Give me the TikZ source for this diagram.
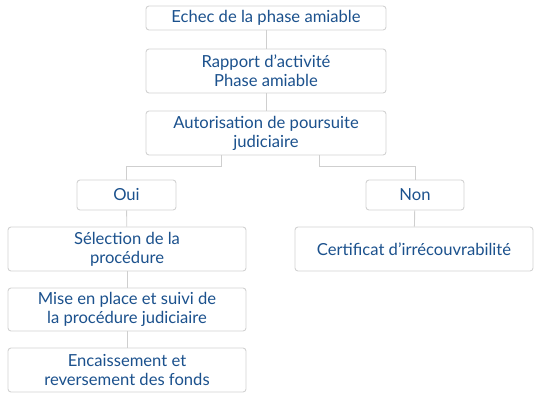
\documentclass[tikz,border=0pt]{standalone}
\usepackage{fontspec}
\setmainfont{Lato}
\begin{document}
\begin{tikzpicture}[x=1pt,y=-1pt,
  box/.style={draw=boxgray, line width=0.9pt, rounded corners=3pt, fill=white, text=txtblue, align=center, font=\fontsize{16.6}{19}\selectfont, inner sep=0pt},
  link/.style={draw=linegray, line width=0.9pt}]
\definecolor{boxgray}{HTML}{D2D2D2}
\definecolor{linegray}{HTML}{CFCFCF}
\definecolor{txtblue}{HTML}{1B518D}
\useasboundingbox (0,0) rectangle (540,400);
\node[box, minimum width=240pt, minimum height=24pt] (b1) at (266,18) {Echec de la phase amiable};
\node[box, minimum width=240pt, minimum height=44pt] (b2) at (266,71) {Rapport d’activité\\Phase amiable};
\node[box, minimum width=240pt, minimum height=44pt] (b3) at (266,133) {Autorisation de poursuite\\judiciaire};
\node[box, minimum width=99pt, minimum height=30pt] (oui) at (126.5,195) {Oui};
\node[box, minimum width=98pt, minimum height=30pt] (non) at (415,195) {Non};
\node[box, minimum width=238pt, minimum height=44pt] (sel) at (127,249) {Sélection de la\\procédure};
\node[box, minimum width=238pt, minimum height=43pt] (mise) at (127,309.5) {Mise en place et suivi de\\la procédure judiciaire};
\node[box, minimum width=238pt, minimum height=44pt] (enc) at (127,370) {Encaissement et\\reversement des fonds};
\node[box, minimum width=238pt, minimum height=44pt] (cert) at (414,249) {Certificat d’irrécouvrabilité};
\coordinate (el) at (221,166);
\coordinate (er) at (319,166);
\draw[link] (b1) -- (b2);
\draw[link] (b2) -- (b3);
\draw[link] (b3.south -| el) -- (el) -| (oui.north);
\draw[link] (b3.south -| er) -- (er) -| (non.north);
\draw[link] (oui) -- (sel);
\draw[link] (sel) -- (mise);
\draw[link] (mise) -- (enc);
\draw[link] (non) -- (cert);
\end{tikzpicture}
\end{document}
